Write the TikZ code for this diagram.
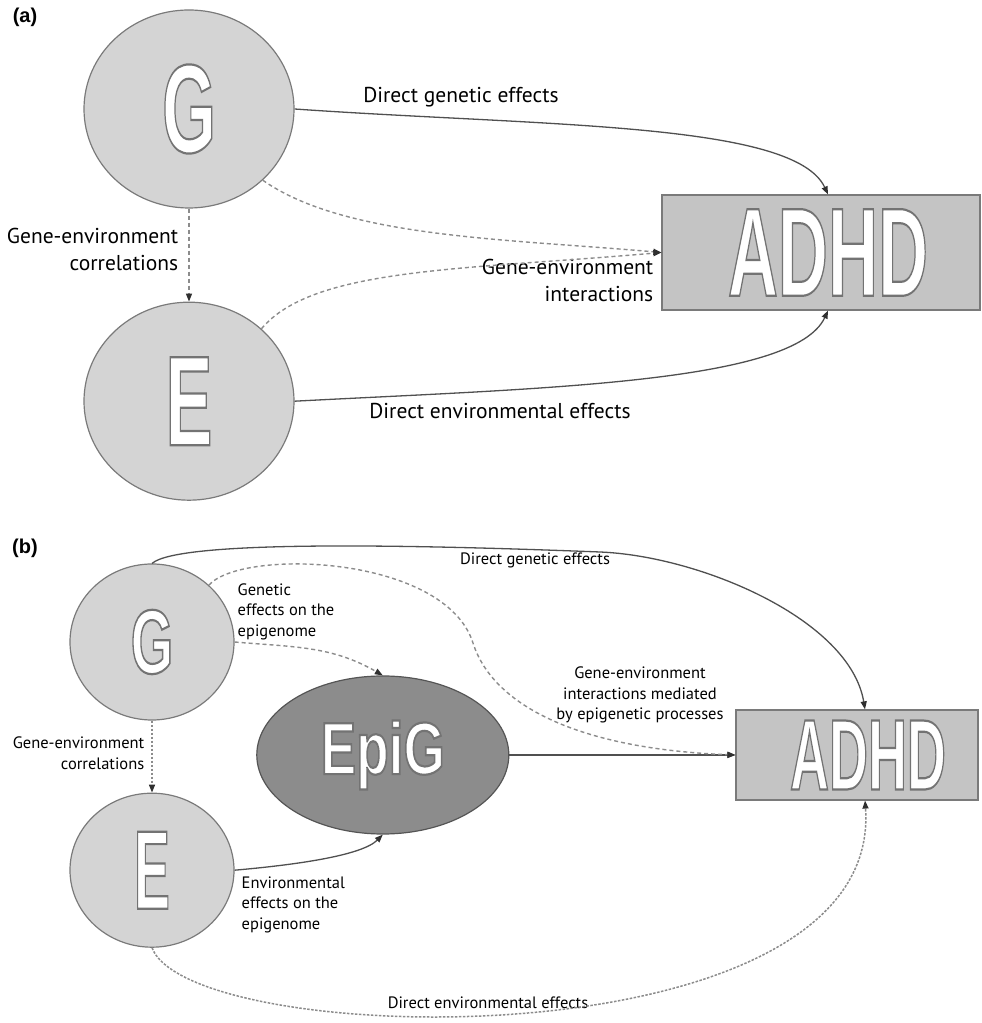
\documentclass[tikz,border=0pt]{standalone}
\usepackage{xcolor}
\usepackage{graphicx}
\usepackage{fontspec}
\setmainfont{PT Sans}
\newfontfamily\headfont{Liberation Sans}
\usepackage{tikz}
\usetikzlibrary{shapes.geometric,arrows.meta,positioning,calc}

\definecolor{circfill}{HTML}{D4D4D4}
\definecolor{boxfill}{HTML}{C4C4C4}
\definecolor{epifill}{HTML}{8C8C8C}
\definecolor{rimgray}{HTML}{7A7A7A}
\definecolor{linegray}{HTML}{505050}
\definecolor{dashgray}{HTML}{8C8C8C}
\definecolor{tipgray}{HTML}{303030}

\newcommand{\bigword}[3]{\scalebox{#2}[1]{\fontsize{#1}{#1}\headfont\bfseries\color{white}%
  \special{pdf:literal direct 0.45 0.45 0.45 RG 2 Tr 2.2 w}#3\special{pdf:literal direct 0 Tr}}}

\begin{document}
\begin{tikzpicture}[x=1pt, y=1pt, ->, >={Triangle[length=8pt, width=6pt, color=tipgray]}, thick,
  every node/.style={font=\fontsize{21.5}{27}\selectfont},
  circ/.style={ellipse, draw=rimgray, fill=circfill, line width=1.2pt, inner sep=0pt},
  box/.style={rectangle, draw=rimgray, fill=boxfill, line width=1.2pt, inner sep=0pt},
  epi/.style={ellipse, draw=rimgray!70!black, fill=epifill, line width=1.2pt, inner sep=0pt},
  tag/.style={font=\headfont\bfseries\fontsize{20}{24}\selectfont},
  small/.style={font=\fontsize{16.5}{20.5}\selectfont},
  solidlink/.style={draw=linegray, line width=1.3pt},
  dashlink/.style={draw=dashgray, line width=1.4pt, dash pattern=on 4pt off 3pt},
  dotlink/.style={draw=dashgray, line width=1.5pt, dash pattern=on 2.5pt off 1.5pt}]
  \useasboundingbox (0,0) rectangle (982,1023);

  \node[tag] (TagA) at (25,1006) {(a)};
  \node[circ, minimum width=210pt, minimum height=198pt] (GeneA) at (189,914) {\bigword{126}{0.55}{G}};
  \node[circ, minimum width=210pt, minimum height=198pt, below=93pt of GeneA] (EnvA) {\bigword{128}{0.55}{E}};
  \node[box, minimum width=318pt, minimum height=115pt] (AdhdA) at (821,770.5) {\hspace*{14pt}\bigword{126}{0.55}{ADHD}};

  \node (GenEffA) at (461,926) {Direct genetic effects};
  \node[anchor=east, align=right] (CorrA) at (182,774) {Gene-environment\\correlations};
  \node[anchor=east, align=right] (InterA) at (657,743) {Gene-environment\\interactions};
  \node (EnvEffA) at (500,612) {Direct environmental effects};

  \path
    (GeneA.east) edge[solidlink, out=-4, in=115, out distance=250pt, in distance=80pt] ([xshift=7pt]AdhdA.north)
    (GeneA.-44) edge[dashlink, out=-35, in=175, out distance=100pt] (AdhdA.west)
    (EnvA.45) edge[dashlink, out=50, in=185, out distance=80pt, in distance=200pt] (AdhdA.west)
    (GeneA.south) edge[dashlink] (EnvA.north)
    (EnvA.east) edge[solidlink, out=3, in=-115, out distance=250pt, in distance=80pt] ([xshift=7pt]AdhdA.south);

  \node[tag] (TagB) at (25,475) {(b)};
  \node[circ, minimum width=164pt, minimum height=156pt] (GeneB) at (152,381) {\bigword{91}{0.6}{G}};
  \node[circ, minimum width=164pt, minimum height=154pt, below=72pt of GeneB] (EnvB) {\bigword{112}{0.48}{E}};
  \node[box, minimum width=242pt, minimum height=90pt] (AdhdB) at (857,268) {\hspace*{22pt}\bigword{100}{0.54}{ADHD}};
  \node[epi, minimum width=252pt, minimum height=158pt, left=226pt of AdhdB] (EpiG) {\bigword{74}{0.72}{EpiG}};

  \node[small] (GenEffB) at (535,463) {Direct genetic effects};
  \node[small, anchor=north west, align=left] (GenEpiB) at (234,443) {Genetic\\effects on the\\epigenome};
  \node[small, anchor=east, align=right] (CorrB) at (148,270) {Gene-environment\\correlations};
  \node[small, align=center] (MedB) at (640,328) {Gene-environment\\interactions mediated\\by epigenetic processes};
  \node[small, anchor=north west, align=left] (EnvEpiB) at (238,150) {Environmental\\effects on the\\epigenome};
  \node[small] (EnvEffB) at (488,20) {Direct environmental effects};

  \coordinate (GenBendB) at (600,471);
  \coordinate (GxeBend) at (473,380);
  \path
    (GeneB.east) edge[dashlink, out=-5, in=150] (EpiG.north)
    (GeneB.south) edge[dotlink] (EnvB.north)
    (EnvB.east) edge[solidlink, out=5, in=-135, in distance=30pt] (EpiG.south)
    (EpiG.east) edge[solidlink] (AdhdB.west)
    (EnvB.south) edge[dotlink, out=-69, in=-86, out distance=110pt, in distance=265pt] ([xshift=8pt]AdhdB.south);
  \draw[solidlink] (GeneB.north) .. controls +(28,24) and +(-180,7) .. (GenBendB)
    .. controls +(100,-4) and +(-15,90) .. ([xshift=8pt]AdhdB.north);
  \draw[dashlink] (GeneB.45) .. controls +(33,37) and +(-28,88) .. (GxeBend)
    .. controls +(20,-63) and +(-156,6) .. (AdhdB.west);
\end{tikzpicture}
\end{document}
